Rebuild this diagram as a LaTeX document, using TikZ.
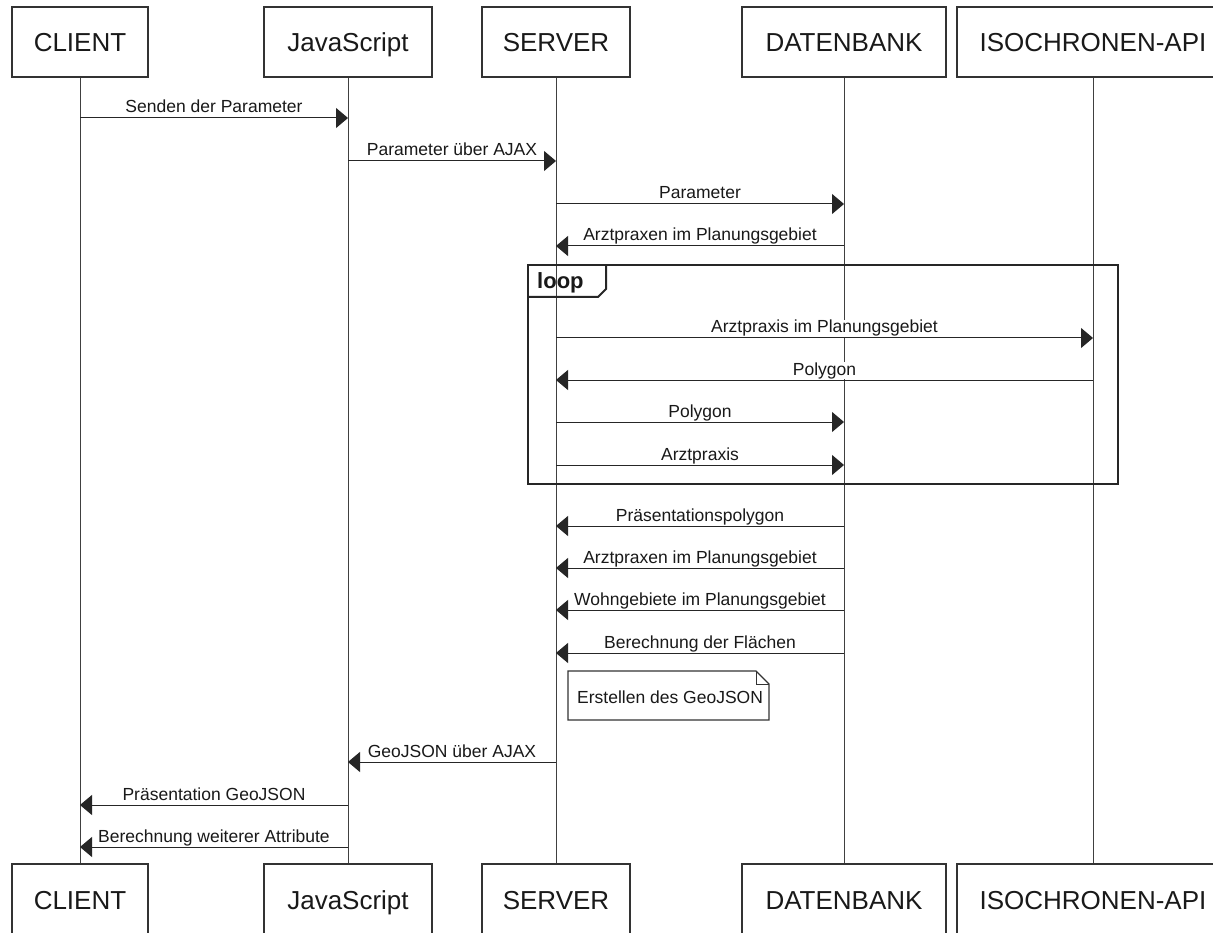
\documentclass[tikz,border=0pt]{standalone}
\usepackage{fontspec}
\setmainfont{Liberation Sans}
\usetikzlibrary{arrows.meta}
\newcommand\seqmsg[4]{%
  \path (#1 |- 0,#3) -- node[lbl, yshift=5pt] {#4} (#2 |- 0,#3);
  \draw[msg] (#1 |- 0,#3) -- (#2 |- 0,#3);}
\begin{document}
\begin{tikzpicture}[x=1pt,y=-1pt,
  actor/.style={draw=black!80, line width=1.2pt, fill=white, minimum height=70pt,
    inner sep=0pt, text height=19pt, text depth=0pt,
    font=\fontsize{26}{26}\selectfont, text=black!90},
  msg/.style={draw=black!85, line width=1pt, -{Triangle[length=12pt,width=20pt]}},
  lbl/.style={font=\fontsize{17.5}{17.5}\selectfont, fill=white, inner sep=0.5pt,
    anchor=base, text=black!90},
  life/.style={draw=black!75, line width=1pt},
  frame/.style={draw=black!85, line width=2pt},
  notebox/.style={draw=black!80, line width=1.2pt, fill=white}
]
\useasboundingbox (0,0) rectangle (1213,933);
\clip (0,0) rectangle (1213,933);
\fill[white] (0,0) rectangle (1213,933);

% top actors
\node[actor, minimum width=136pt] (ct) at (80,42) {CLIENT};
\node[actor, minimum width=168pt] (jt) at (348,42) {JavaScript};
\node[actor, minimum width=148pt] (st) at (556,42) {SERVER};
\node[actor, minimum width=204pt] (dt) at (844,42) {DATENBANK};
\node[actor, minimum width=272pt] (it) at (1093,42) {ISOCHRONEN-API};
% bottom actors
\node[actor, minimum width=136pt, minimum height=72pt] (cb) at (80,900) {CLIENT};
\node[actor, minimum width=168pt, minimum height=72pt] (jb) at (348,900) {JavaScript};
\node[actor, minimum width=148pt, minimum height=72pt] (sb) at (556,900) {SERVER};
\node[actor, minimum width=204pt, minimum height=72pt] (db) at (844,900) {DATENBANK};
\node[actor, minimum width=272pt, minimum height=72pt] (ib) at (1093,900) {ISOCHRONEN-API};

% lifelines
\draw[life] (ct.south) -- (cb.north);
\draw[life] (jt.south) -- (jb.north);
\draw[life] (st.south) -- (sb.north);
\draw[life] (dt.south) -- (db.north);
\draw[life] (it.south) -- (ib.north);

% messages
\seqmsg{ct}{jt}{118}{Senden der Parameter}
\seqmsg{jt}{st}{161}{Parameter über AJAX}
\seqmsg{st}{dt}{204}{Parameter}
\seqmsg{dt}{st}{246}{Arztpraxen im Planungsgebiet}

% loop frame
\draw[frame] (528,265) rectangle (1118,484);
\draw[frame] (528,297) -- (598,297) -- (606,289) -- (606,265);
\node[font=\bfseries\fontsize{22}{22}\selectfont, anchor=base west, inner sep=0pt, text=black!90] (looplbl) at (537,289) {loop};

\seqmsg{st}{it}{338}{Arztpraxis im Planungsgebiet}
\seqmsg{it}{st}{380}{Polygon}
\seqmsg{st}{dt}{422}{Polygon}
\seqmsg{st}{dt}{465}{Arztpraxis}

\seqmsg{dt}{st}{526}{Präsentationspolygon}
\seqmsg{dt}{st}{568}{Arztpraxen im Planungsgebiet}
\seqmsg{dt}{st}{610}{Wohngebiete im Planungsgebiet}
\seqmsg{dt}{st}{653}{Berechnung der Flächen}

% note
\draw[notebox] (568,671) -- (756,671) -- (769,684) -- (769,720) -- (568,720) -- cycle;
\draw[draw=black!80, line width=1pt] (756,671) -- (756,684) -- (769,684);
\node[font=\fontsize{17.5}{17.5}\selectfont, anchor=base west, inner sep=0pt, text=black!90] (note) at (577,703) {Erstellen des GeoJSON};

\seqmsg{st}{jt}{762}{GeoJSON über AJAX}
\seqmsg{jt}{ct}{805}{Präsentation GeoJSON}
\seqmsg{jt}{ct}{847}{Berechnung weiterer Attribute}
\end{tikzpicture}
\end{document}
